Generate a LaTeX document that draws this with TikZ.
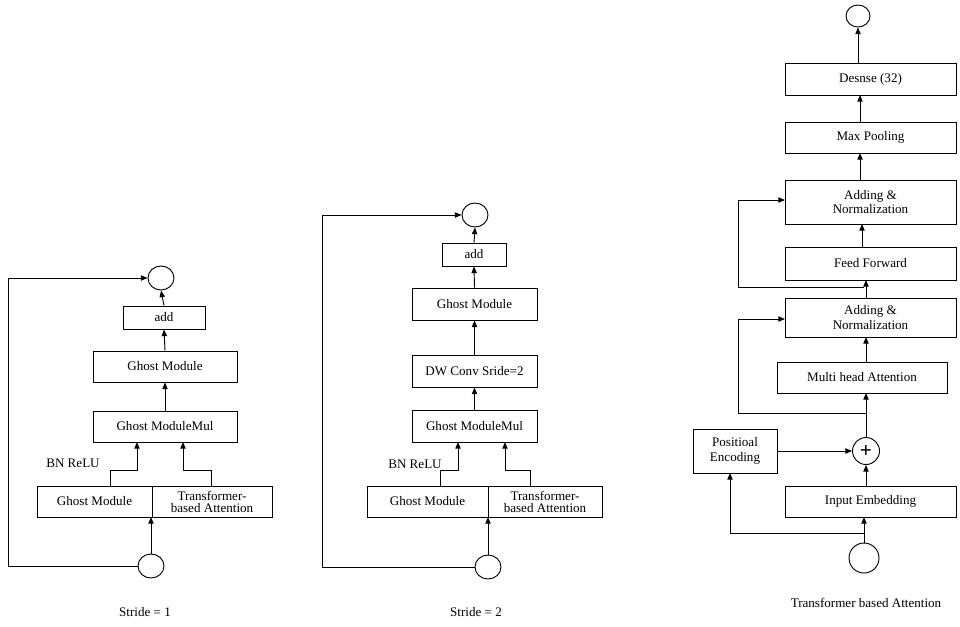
\documentclass[tikz,border=0pt]{standalone}
\usepackage{fontspec}
\setmainfont{Liberation Serif}
\usetikzlibrary{arrows.meta,shapes.geometric}
\begin{document}
\begin{tikzpicture}[x=0.75pt,y=-0.75pt,
  every node/.style={font=\fontsize{9.8}{11}\selectfont},
  box/.style={draw,rectangle,inner sep=0pt,align=center},
  circ/.style={draw,ellipse,inner sep=0pt},
  arr/.style={-{Triangle[length=5pt,width=4pt]}},
  line width=0.7pt]
\useasboundingbox (0,0) rectangle (960,626);
% ---------- Panel 1
\node[circ,minimum width=26pt*0.75,minimum height=24pt*0.75] (t1) at (161,278) {};
\node[box,minimum width=82pt*0.75,minimum height=23pt*0.75] (add1) at (164,317.5) {add};
\node[box,minimum width=144pt*0.75,minimum height=31pt*0.75] (gm1) at (165,366.5) {Ghost Module};
\node[box,minimum width=144pt*0.75,minimum height=31pt*0.75] (gmm1) at (165,426.5) {Ghost ModuleMul};
\node[box,minimum width=115pt*0.75,minimum height=31pt*0.75] (ga1) at (94.5,501.5) {Ghost Module};
\node[box,minimum width=120pt*0.75,minimum height=31pt*0.75] (tr1) at (212,501.5) {Transformer-\\[-2pt]based Attention};
\node[circ,minimum width=26pt*0.75,minimum height=24pt*0.75] (b1) at (151,566) {};
\node at (73,463) {BN ReLU};
\node at (145,612) {Stride = 1};
\draw[arr] (b1.north) -- (151,517);
\draw[arr] (b1.west) -- (8,566) -- (8,278) -- (t1.west);
\draw[arr] (110,486) -- (110,470) -- (137,470) -- (137,442);
\draw[arr] (211,486) -- (211,470) -- (183,470) -- (183,442);
\draw[arr] (gmm1.north) -- (gm1.south);
\draw[arr] (gm1.north) -- (add1.south);
\draw[arr] (add1.north) -- (t1.south);
% ---------- Panel 2
\node[circ,minimum width=26pt*0.75,minimum height=24pt*0.75] (t2) at (475,215) {};
\node[box,minimum width=64pt*0.75,minimum height=23pt*0.75] (add2) at (474,254.5) {add};
\node[box,minimum width=125pt*0.75,minimum height=32pt*0.75] (gm2) at (474.5,304) {Ghost Module};
\node[box,minimum width=125pt*0.75,minimum height=32pt*0.75] (dw2) at (474.5,371) {DW Conv Sride=2};
\node[box,minimum width=125pt*0.75,minimum height=32pt*0.75] (gmm2) at (474.5,426) {Ghost ModuleMul};
\node[box,minimum width=121pt*0.75,minimum height=31pt*0.75] (ga2) at (427.5,501.5) {Ghost Module};
\node[box,minimum width=114pt*0.75,minimum height=31pt*0.75] (tr2) at (545,501.5) {Transformer-\\[-2pt]based Attention};
\node[circ,minimum width=26pt*0.75,minimum height=24pt*0.75] (b2) at (488,567) {};
\node at (415,464) {BN ReLU};
\node at (476,612) {Stride = 2};
\draw[arr] (b2.north) -- (488,517);
\draw[arr] (b2.west) -- (322,567) -- (322,215) -- (t2.west);
\draw[arr] (440,486) -- (440,470) -- (458,470) -- (458,442);
\draw[arr] (530,486) -- (530,470) -- (505,470) -- (505,442);
\draw[arr] (gmm2.north) -- (dw2.south);
\draw[arr] (dw2.north) -- (gm2.south);
\draw[arr] (gm2.north) -- (add2.south);
\draw[arr] (add2.north) -- (t2.south);
% ---------- Panel 3
\node[circ,minimum width=24pt*0.75,minimum height=22pt*0.75] (t3) at (858,16) {};
\node[box,minimum width=171pt*0.75,minimum height=32pt*0.75] (de) at (870.5,79) {Desnse (32)};
\node[box,minimum width=171pt*0.75,minimum height=31pt*0.75] (mp) at (870.5,137.5) {Max Pooling};
\node[box,minimum width=171pt*0.75,minimum height=44pt*0.75] (an2) at (870.5,202) {Adding \&\\Normalization};
\node[box,minimum width=171pt*0.75,minimum height=33pt*0.75] (ff) at (870.5,263.5) {Feed Forward};
\node[box,minimum width=171pt*0.75,minimum height=39pt*0.75] (an1) at (870.5,317.5) {Adding \&\\Normalization};
\node[box,minimum width=170pt*0.75,minimum height=31pt*0.75] (mha) at (862,377.5) {Multi head Attention};
\node[draw,circle,minimum size=27pt*0.75,inner sep=0pt,font=\fontsize{16}{16}\selectfont\bfseries] (pl) at (866,451) {+};
\node[box,minimum width=84pt*0.75,minimum height=44pt*0.75] (pe) at (735,451) {Positioal\\Encoding};
\node[box,minimum width=171pt*0.75,minimum height=31pt*0.75] (ie) at (870.5,501.5) {Input Embedding};
\node[circ,minimum width=30pt*0.75,minimum height=30pt*0.75] (b3) at (864,558) {};
\node at (866,603) {Transformer based Attention};
\draw[arr] (b3.north) -- (864,517);
\draw[arr] (864,533) -- (730,533) -- (730,473);
\draw[arr] (866,486) -- (pl.south);
\draw[arr] (pe.east) -- (pl.west);
\draw[arr] (pl.north) -- (866,393);
\draw (866,413) -- (738,413);
\draw[arr] (738,413) -- (738,319) -- (785,319);
\draw[arr] (866,362) -- (866,337);
\draw[arr] (866,298) -- (866,280);
\draw (864,287) -- (738,287);
\draw[arr] (738,287) -- (738,200) -- (785,200);
\draw[arr] (862,247) -- (862,224);
\draw[arr] (860,180) -- (860,153);
\draw[arr] (860,122) -- (860,95);
\draw[arr] (858,63) -- (t3.south);
\end{tikzpicture}
\end{document}
